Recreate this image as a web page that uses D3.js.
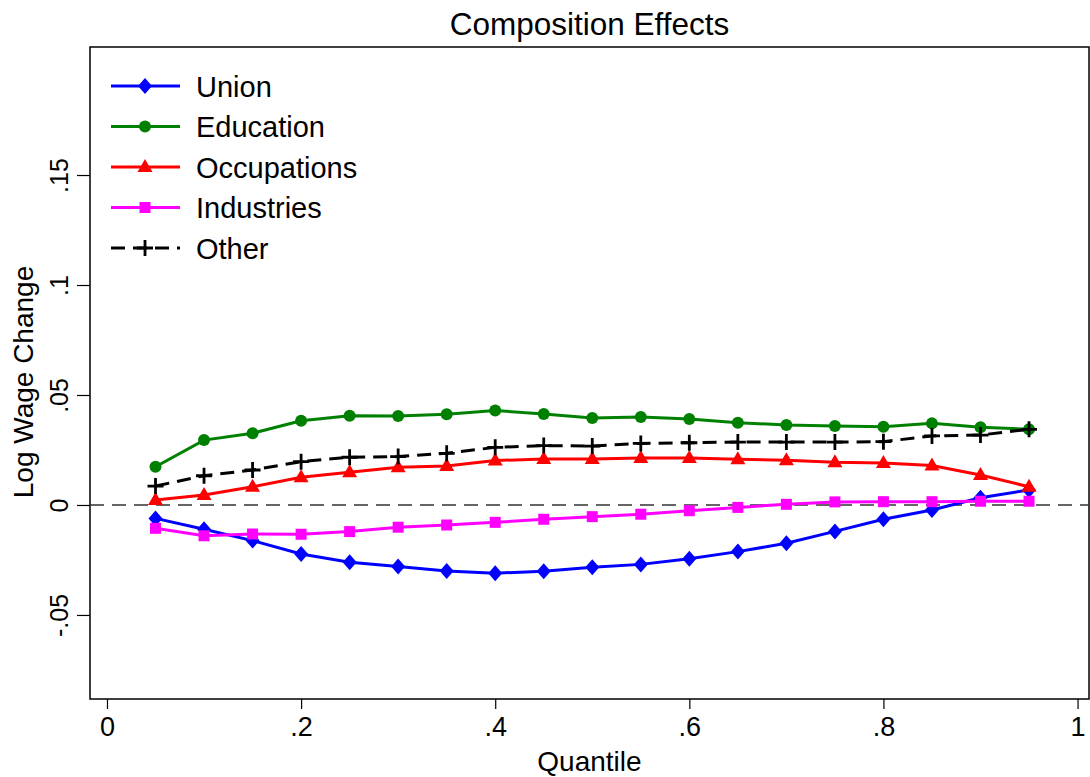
<!DOCTYPE html>
<html>
<head>
<meta charset="utf-8">
<script src="https://cdn.jsdelivr.net/npm/d3@7"></script>
<style>
  body { margin: 0; background: #fff; }
  text { font-family: "Liberation Sans", Arial, sans-serif; }
</style>
</head>
<body>
<div id="chart"></div>
<script>
const quantiles = [0.05, 0.1, 0.15, 0.2, 0.25, 0.3, 0.35, 0.4, 0.45, 0.5, 0.55, 0.6, 0.65, 0.7, 0.75, 0.8, 0.85, 0.9, 0.95];

const union = [-0.0061, -0.011, -0.0162, -0.0223, -0.026, -0.028, -0.030, -0.031, -0.0301, -0.0283, -0.027, -0.0244, -0.0212, -0.0174, -0.012, -0.0065, -0.0023, 0.0033, 0.0068];
const education = [0.0174, 0.0295, 0.0326, 0.0383, 0.0406, 0.0405, 0.0412, 0.0429, 0.0414, 0.0395, 0.040, 0.0391, 0.0374, 0.0364, 0.0359, 0.0356, 0.0371, 0.0353, 0.0344];
const occupations = [0.0023, 0.0045, 0.0083, 0.0126, 0.0149, 0.0171, 0.0177, 0.0202, 0.0209, 0.0209, 0.0214, 0.0214, 0.0208, 0.0203, 0.0194, 0.0191, 0.0179, 0.0136, 0.0083];
const industries = [-0.0106, -0.014, -0.0132, -0.0133, -0.0121, -0.0101, -0.0091, -0.0079, -0.0065, -0.0053, -0.0042, -0.0026, -0.0011, 0.0003, 0.0014, 0.0015, 0.0015, 0.0017, 0.0017];
const other = [0.0086, 0.0133, 0.0159, 0.0197, 0.0217, 0.022, 0.0235, 0.0262, 0.027, 0.0268, 0.028, 0.0283, 0.0286, 0.0286, 0.0286, 0.0288, 0.0314, 0.0318, 0.0344];

const xTicks = [0, 0.2, 0.4, 0.6, 0.8, 1];
const xTickLabels = ["0", ".2", ".4", ".6", ".8", "1"];
const yTicks = [-0.05, 0, 0.05, 0.1, 0.15];
const yTickLabels = ["-.05", "0", ".05", ".1", ".15"];

const series = [
  { name: "Union", values: union, color: "#0000ff", symbol: "diamond", dash: null },
  { name: "Education", values: education, color: "#008000", symbol: "circle", dash: null },
  { name: "Occupations", values: occupations, color: "#ff0000", symbol: "triangle", dash: null },
  { name: "Industries", values: industries, color: "#ff00ff", symbol: "square", dash: null },
  { name: "Other", values: other, color: "#000000", symbol: "plus", dash: "14,8" }
];

const width = 1090;
const height = 777;
const margin = { left: 90, right: 1, top: 47, bottom: 78 };

const svg = d3.select("#chart")
  .append("svg")
  .attr("width", width)
  .attr("height", height);

const xScale = d3.scaleLinear()
  .domain([-0.0175, 1.0118])
  .range([margin.left, width - margin.right]);

const yScale = d3.scaleLinear()
  .domain([-0.0882, 0.2082])
  .range([height - margin.bottom, margin.top]);

// plot frame
svg.append("rect")
  .attr("x", margin.left)
  .attr("y", margin.top)
  .attr("width", width - margin.right - margin.left)
  .attr("height", height - margin.bottom - margin.top)
  .attr("fill", "none")
  .attr("stroke", "#000")
  .attr("stroke-width", 1.5);

// zero line
svg.append("line")
  .attr("x1", margin.left)
  .attr("x2", width - margin.right)
  .attr("y1", yScale(0))
  .attr("y2", yScale(0))
  .attr("stroke", "#333")
  .attr("stroke-width", 1.5)
  .attr("stroke-dasharray", "14,8");

const xAxis = d3.axisBottom(xScale)
  .tickValues(xTicks)
  .tickFormat((d, i) => xTickLabels[i])
  .tickSize(10)
  .tickPadding(8);

const yAxis = d3.axisLeft(yScale)
  .tickValues(yTicks)
  .tickFormat((d, i) => yTickLabels[i])
  .tickSize(13)
  .tickPadding(8);

const gx = svg.append("g")
  .attr("transform", `translate(0, ${height - margin.bottom})`)
  .call(xAxis);
gx.select(".domain").remove();
gx.selectAll("line").attr("stroke-width", 1.2);
gx.selectAll("text")
  .attr("font-size", 27)
  .attr("font-family", "Liberation Sans, Arial, sans-serif")
  .attr("fill", "#000");

const gy = svg.append("g")
  .attr("transform", `translate(${margin.left}, 0)`)
  .call(yAxis);
gy.select(".domain").remove();
gy.selectAll("line").attr("stroke-width", 1.2);
gy.selectAll("text")
  .attr("font-size", 25)
  .attr("font-family", "Liberation Sans, Arial, sans-serif")
  .attr("fill", "#000")
  .attr("text-anchor", "middle")
  .attr("dy", null)
  .attr("x", null)
  .attr("transform", "translate(-22, 0) rotate(-90)")
  .attr("y", 0);

// axis titles
svg.append("text")
  .attr("x", (margin.left + width - margin.right) / 2)
  .attr("y", 771)
  .attr("text-anchor", "middle")
  .attr("font-size", 28)
  .text("Quantile");

svg.append("text")
  .attr("transform", `translate(33, 382) rotate(-90)`)
  .attr("text-anchor", "middle")
  .attr("font-size", 28)
  .text("Log Wage Change");

svg.append("text")
  .attr("x", (margin.left + width - margin.right) / 2)
  .attr("y", 35)
  .attr("text-anchor", "middle")
  .attr("font-size", 31.5)
  .text("Composition Effects");

function drawMarker(g, symbol, color, x, y) {
  if (symbol === "diamond") {
    g.append("path")
      .attr("d", `M${x},${y - 8}L${x + 7},${y}L${x},${y + 8}L${x - 7},${y}Z`)
      .attr("fill", color);
  } else if (symbol === "circle") {
    g.append("circle").attr("cx", x).attr("cy", y).attr("r", 6).attr("fill", color);
  } else if (symbol === "triangle") {
    g.append("path")
      .attr("d", `M${x},${y - 8}L${x + 7.5},${y + 5}L${x - 7.5},${y + 5}Z`)
      .attr("fill", color);
  } else if (symbol === "square") {
    g.append("rect").attr("x", x - 5.5).attr("y", y - 5.5).attr("width", 11).attr("height", 11).attr("fill", color);
  } else if (symbol === "plus") {
    g.append("path")
      .attr("d", `M${x - 8},${y}H${x + 8}M${x},${y - 8}V${y + 8}`)
      .attr("stroke", color)
      .attr("stroke-width", 2.8)
      .attr("fill", "none");
  }
}

const line = d3.line()
  .x(d => xScale(d[0]))
  .y(d => yScale(d[1]));

series.forEach(s => {
  const pts = quantiles.map((q, i) => [q, s.values[i]]);
  const g = svg.append("g");
  g.append("path")
    .datum(pts)
    .attr("d", line)
    .attr("fill", "none")
    .attr("stroke", s.color)
    .attr("stroke-width", 3)
    .attr("stroke-dasharray", s.dash);
  pts.forEach(p => drawMarker(g, s.symbol, s.color, xScale(p[0]), yScale(p[1])));
});

// legend
const legend = svg.append("g");
series.forEach((s, i) => {
  const y = 86 + i * 40.5;
  const g = legend.append("g");
  g.append("line")
    .attr("x1", 111).attr("x2", 180)
    .attr("y1", y).attr("y2", y)
    .attr("stroke", s.color)
    .attr("stroke-width", 3)
    .attr("stroke-dasharray", s.dash ? "14,8" : null);
  drawMarker(g, s.symbol, s.color, 145, y);
  g.append("text")
    .attr("x", 196)
    .attr("y", y + 10.5)
    .attr("font-size", 29)
    .text(s.name);
});
</script>
</body>
</html>
